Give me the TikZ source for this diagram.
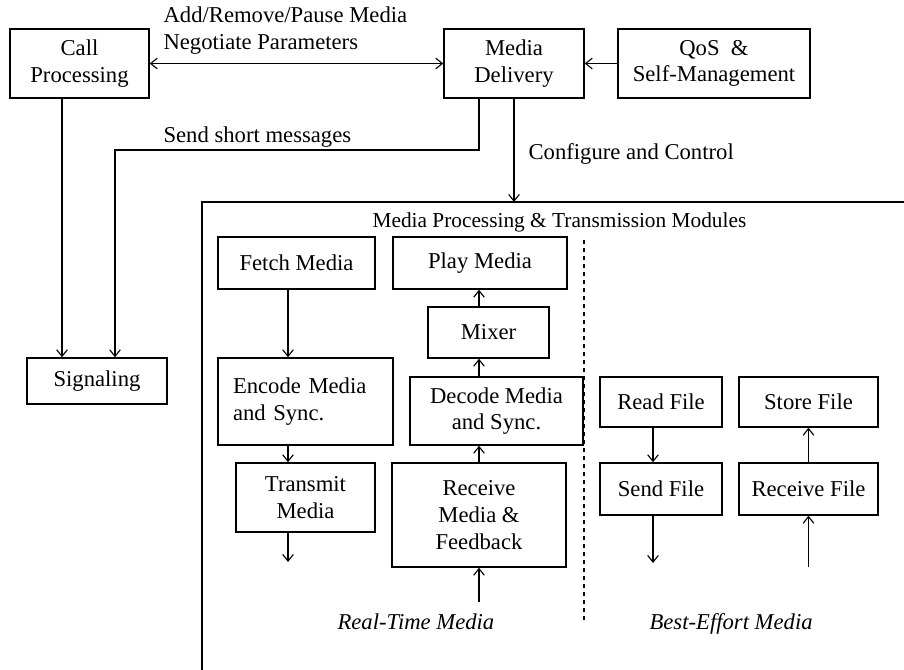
\documentclass[tikz,border=0pt]{standalone}
\usepackage{fontspec}
\setmainfont{Liberation Serif}
\usetikzlibrary{arrows.meta}

\begin{document}
\begin{tikzpicture}[x=0.75pt,y=-0.75pt,->,>={Straight Barb[length=5pt,width=8pt]},line width=0.85pt,
    font=\fontsize{17}{20}\selectfont,
    blk/.style={draw,line width=1.1pt,inner sep=0pt,align=center},
    txt/.style={inner sep=0pt}]
    \useasboundingbox (0,0) rectangle (904,670);

    % control part
    \node[blk, minimum width=104.25pt, minimum height=51.75pt] (call) at (79.5,63.5) {Call\\Processing};
    \node[blk, minimum width=105pt, minimum height=51.75pt] (delivery) at (514,63.5) {Media\\Delivery};
    \node[blk, minimum width=144pt, minimum height=51.75pt] (qos) at (714,63.5) {QoS\ \ \&\\Self-Management};
    \node[blk, minimum width=105pt, minimum height=34.5pt] (signal) at (97,381) {Signaling};

    % real-time media
    \node[blk, minimum width=117.75pt, minimum height=39pt] (fetch) at (296.5,263) {Fetch Media};
    \node[blk, minimum width=131.25pt, minimum height=65.25pt, text width=108.75pt, align=left] (encode) at (305.5,401.5) {Encode Media\\and Sync.};
    \node[blk, minimum width=104.25pt, minimum height=51.75pt] (transmit) at (305.5,497.5) {Transmit\\Media};
    \node[blk, minimum width=130.5pt, minimum height=39pt] (play) at (480,263) {Play Media};
    \node[blk, minimum width=90.75pt, minimum height=38.25pt] (mixer) at (488.5,332.5) {Mixer};
    \node[blk, minimum width=129.75pt, minimum height=51pt] (decode) at (496.5,411) {Decode Media\\and Sync.};
    \node[blk, minimum width=130.5pt, minimum height=78pt] (receive) at (479,515) {Receive\\Media \&\\Feedback};

    % best-effort media
    \node[blk, minimum width=91.5pt, minimum height=37.5pt] (readf) at (661,402) {Read File};
    \node[blk, minimum width=91.5pt, minimum height=39pt] (sendf) at (661,489) {Send File};
    \node[blk, minimum width=104.25pt, minimum height=37.5pt] (storef) at (808.5,402) {Store File};
    \node[blk, minimum width=104.25pt, minimum height=39pt] (recvf) at (808.5,489) {Receive File};

    % labels
    \node[txt, anchor=south west, align=left] (nego) at (163,55) {Add/Remove/Pause Media\\Negotiate Parameters};
    \node[txt, anchor=base west] (sms) at (163,143) {Send short messages};
    \node[txt, anchor=base west] (conf) at (528,160) {Configure and Control};
    \node[txt, anchor=base west, font=\fontsize{16}{19}\selectfont] (mods) at (372,228) {Media Processing \& Transmission Modules};
    \node[txt, anchor=base west, font=\fontsize{17}{20}\selectfont\itshape] (rtm) at (337,629) {Real-Time Media};
    \node[txt, anchor=base west, font=\fontsize{17}{20}\selectfont\itshape] (bem) at (649,629) {Best-Effort Media};

    % helper points
    \coordinate (sigl) at (62,0);
    \coordinate (bend) at (115,150);
    \coordinate (frame) at (202,202);
    \coordinate (colA) at (288,0);
    \coordinate (colB) at (653,0);
    \coordinate (tout) at (288,562);
    \coordinate (rin) at (479,602);
    \coordinate (fout) at (653,563);
    \coordinate (fin) at (808.5,567);

    % module frame and separator
    \draw[-, line width=1.1pt] (904,202) -- (frame) -- (202,670);
    \draw[-, dashed] (584,240) -- (584,620);

    % connectors
    \draw[<->] (call.east) -- (delivery.west);
    \draw (qos.west) -- (delivery.east);
    \draw (call.south -| sigl) -- (signal.north -| sigl);
    \draw (delivery.south -| receive) |- (bend) -- (signal.north -| bend);
    \draw (delivery.south) -- (delivery.south |- frame);

    \draw (fetch.south -| colA) -- (encode.north -| colA);
    \draw (encode.south -| colA) -- (transmit.north -| colA);
    \draw (transmit.south -| colA) -- (tout);
    \draw (rin) -- (receive.south);
    \draw (receive.north) -- (decode.south -| receive);
    \draw (decode.north -| receive) -- (mixer.south -| receive);
    \draw (mixer.north -| receive) -- (play.south -| receive);

    \draw (readf.south -| colB) -- (sendf.north -| colB);
    \draw (sendf.south -| colB) -- (fout);
    \draw (fin) -- (recvf.south);
    \draw (recvf.north) -- (storef.south);
\end{tikzpicture}
\end{document}
